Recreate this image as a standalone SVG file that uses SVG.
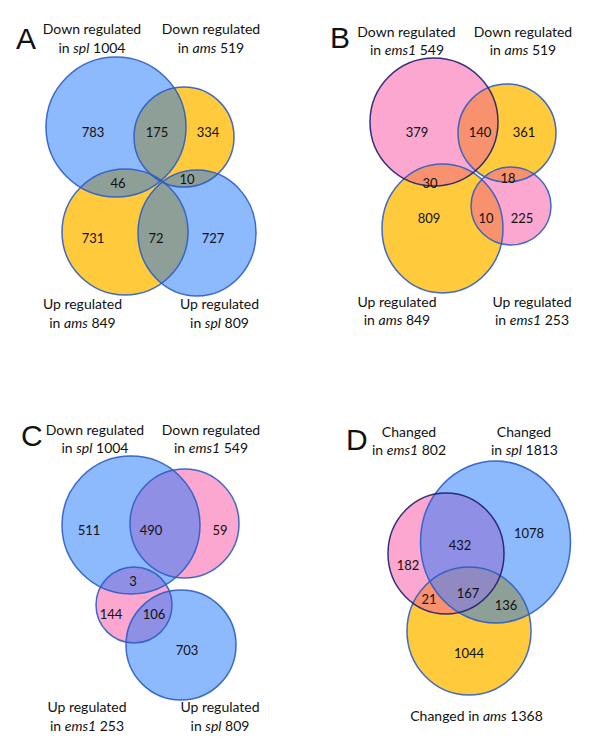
<svg xmlns="http://www.w3.org/2000/svg" width="600" height="756" viewBox="0 0 600 756">
<style>
.b{fill:#8DB9FD}.y{fill:#FFCB3D}.p{fill:#FBA7D0}.g{fill:#8E9F98}.s{fill:#F8916D}.l{fill:#8F8FE5}.t{fill:#9089C2}
.sb{fill:none;stroke:#2B5CC6;stroke-width:1.5;stroke-opacity:0.9}.sn{fill:none;stroke:#1E1E6E;stroke-width:1.5;stroke-opacity:0.9}
text{font-family:Lato,"Open Sans",sans-serif;fill:#111;text-anchor:middle}
.lab{font-size:14px}.num{font-size:13px}
.let{font-family:"Liberation Sans",Arial,sans-serif;font-size:30px;text-anchor:start}
.i{font-style:italic}
</style>
<defs>
<clipPath id="cA1"><ellipse cx="116" cy="127" rx="70" ry="70"/></clipPath>
<clipPath id="cA2"><ellipse cx="184" cy="137" rx="50" ry="50"/></clipPath>
<clipPath id="cA3"><ellipse cx="125" cy="232" rx="63" ry="63"/></clipPath>
<clipPath id="cB1"><ellipse cx="434" cy="122" rx="64" ry="64"/></clipPath>
<clipPath id="cB2"><ellipse cx="507" cy="133" rx="49" ry="49"/></clipPath>
<clipPath id="cB3"><ellipse cx="442.5" cy="228.5" rx="60.5" ry="64.5"/></clipPath>
<clipPath id="cC1"><ellipse cx="131" cy="525" rx="69" ry="69"/></clipPath>
<clipPath id="cC3"><ellipse cx="134" cy="605" rx="38" ry="38"/></clipPath>
<clipPath id="cD1"><ellipse cx="446" cy="553.5" rx="58" ry="60.5"/></clipPath>
<clipPath id="cD2"><ellipse cx="495.5" cy="542" rx="75" ry="81"/></clipPath>
</defs>

<g id="panelA">
<g id="A-fills">
<ellipse class="b" cx="116" cy="127" rx="70" ry="70"/>
<ellipse class="y" cx="184" cy="137" rx="50" ry="50"/>
<ellipse class="y" cx="125" cy="232" rx="63" ry="63"/>
<ellipse class="b" cx="197" cy="233" rx="59" ry="63"/>
<ellipse class="g" cx="184" cy="137" rx="50" ry="50" clip-path="url(#cA1)"/>
<ellipse class="g" cx="125" cy="232" rx="63" ry="63" clip-path="url(#cA1)"/>
<ellipse class="g" cx="197" cy="233" rx="59" ry="63" clip-path="url(#cA2)"/>
<ellipse class="g" cx="197" cy="233" rx="59" ry="63" clip-path="url(#cA3)"/>
</g>
<g id="A-outlines">
<ellipse class="sb" cx="116" cy="127" rx="70" ry="70"/>
<ellipse class="sb" cx="184" cy="137" rx="50" ry="50"/>
<ellipse class="sb" cx="125" cy="232" rx="63" ry="63"/>
<ellipse class="sb" cx="197" cy="233" rx="59" ry="63"/>
</g>
<text class="let" x="16" y="49">A</text>
<text class="lab" x="92" y="34">Down regulated</text>
<text class="lab" x="92" y="53">in <tspan class="i">spl</tspan> 1004</text>
<text class="lab" x="211" y="34">Down regulated</text>
<text class="lab" x="211" y="53">in <tspan class="i">ams</tspan> 519</text>
<text class="lab" x="82.5" y="309">Up regulated</text>
<text class="lab" x="82.5" y="328">in <tspan class="i">ams</tspan> 849</text>
<text class="lab" x="219.5" y="309">Up regulated</text>
<text class="lab" x="219.5" y="328">in <tspan class="i">spl</tspan> 809</text>
<text class="num" x="93" y="137">783</text>
<text class="num" x="157" y="137">175</text>
<text class="num" x="208" y="137">334</text>
<text class="num" x="118" y="188">46</text>
<text class="num" x="187" y="184">10</text>
<text class="num" x="93" y="243">731</text>
<text class="num" x="156" y="243">72</text>
<text class="num" x="213" y="243">727</text>
</g>

<g id="panelB">
<g id="B-fills">
<ellipse class="p" cx="434" cy="122" rx="64" ry="64"/>
<ellipse class="y" cx="507" cy="133" rx="49" ry="49"/>
<ellipse class="y" cx="442.5" cy="228.5" rx="60.5" ry="64.5"/>
<ellipse class="p" cx="511" cy="206" rx="40" ry="39"/>
<ellipse class="s" cx="507" cy="133" rx="49" ry="49" clip-path="url(#cB1)"/>
<ellipse class="s" cx="442.5" cy="228.5" rx="60.5" ry="64.5" clip-path="url(#cB1)"/>
<ellipse class="s" cx="511" cy="206" rx="40" ry="39" clip-path="url(#cB2)"/>
<ellipse class="s" cx="511" cy="206" rx="40" ry="39" clip-path="url(#cB3)"/>
</g>
<g id="B-outlines">
<ellipse class="sb" cx="507" cy="133" rx="49" ry="49"/>
<ellipse class="sb" cx="442.5" cy="228.5" rx="60.5" ry="64.5"/>
<ellipse class="sb" cx="511" cy="206" rx="40" ry="39"/>
<ellipse class="sn" cx="434" cy="122" rx="64" ry="64"/>
</g>
<text class="let" x="330" y="48">B</text>
<text class="lab" x="406.5" y="37">Down regulated</text>
<text class="lab" x="407" y="55">in <tspan class="i">ems1</tspan> 549</text>
<text class="lab" x="523" y="37">Down regulated</text>
<text class="lab" x="523" y="55">in <tspan class="i">ams</tspan> 519</text>
<text class="lab" x="397" y="307">Up regulated</text>
<text class="lab" x="397" y="325">in <tspan class="i">ams</tspan> 849</text>
<text class="lab" x="532" y="307">Up regulated</text>
<text class="lab" x="532" y="325">in <tspan class="i">ems1</tspan> 253</text>
<text class="num" x="417" y="137">379</text>
<text class="num" x="480" y="137">140</text>
<text class="num" x="524" y="137">361</text>
<text class="num" x="430" y="188">30</text>
<text class="num" x="508" y="183">18</text>
<text class="num" x="429" y="223">809</text>
<text class="num" x="486" y="223">10</text>
<text class="num" x="522" y="223">225</text>
</g>

<g id="panelC">
<g id="C-fills">
<ellipse class="b" cx="131" cy="525" rx="69" ry="69"/>
<ellipse class="p" cx="184.5" cy="523.5" rx="54.5" ry="54.5"/>
<ellipse class="p" cx="134" cy="605" rx="38" ry="38"/>
<ellipse class="b" cx="181" cy="645" rx="55" ry="55"/>
<ellipse class="l" cx="184.5" cy="523.5" rx="54.5" ry="54.5" clip-path="url(#cC1)"/>
<ellipse class="l" cx="134" cy="605" rx="38" ry="38" clip-path="url(#cC1)"/>
<ellipse class="l" cx="181" cy="645" rx="55" ry="55" clip-path="url(#cC3)"/>
</g>
<g id="C-outlines">
<ellipse class="sb" cx="131" cy="525" rx="69" ry="69"/>
<ellipse class="sb" cx="184.5" cy="523.5" rx="54.5" ry="54.5"/>
<ellipse class="sb" cx="134" cy="605" rx="38" ry="38"/>
<ellipse class="sb" cx="181" cy="645" rx="55" ry="55"/>
</g>
<text class="let" x="21" y="446">C</text>
<text class="lab" x="95" y="435">Down regulated</text>
<text class="lab" x="95" y="453">in <tspan class="i">spl</tspan> 1004</text>
<text class="lab" x="211" y="435">Down regulated</text>
<text class="lab" x="211" y="453">in <tspan class="i">ems1</tspan> 549</text>
<text class="lab" x="87" y="712">Up regulated</text>
<text class="lab" x="87" y="731">in <tspan class="i">ems1</tspan> 253</text>
<text class="lab" x="220" y="712">Up regulated</text>
<text class="lab" x="220" y="731">in <tspan class="i">spl</tspan> 809</text>
<text class="num" x="89" y="535">511</text>
<text class="num" x="151" y="535">490</text>
<text class="num" x="220" y="535">59</text>
<text class="num" x="133" y="586">3</text>
<text class="num" x="111" y="619">144</text>
<text class="num" x="154" y="619">106</text>
<text class="num" x="187" y="655">703</text>
</g>

<g id="panelD">
<g id="D-fills">
<ellipse class="b" cx="495.5" cy="542" rx="75" ry="81"/>
<ellipse class="p" cx="446" cy="553.5" rx="58" ry="60.5"/>
<ellipse class="y" cx="469" cy="631" rx="62" ry="64"/>
<ellipse class="l" cx="446" cy="553.5" rx="58" ry="60.5" clip-path="url(#cD2)"/>
<ellipse class="s" cx="469" cy="631" rx="62" ry="64" clip-path="url(#cD1)"/>
<ellipse class="g" cx="469" cy="631" rx="62" ry="64" clip-path="url(#cD2)"/>
<g clip-path="url(#cD1)"><ellipse class="t" cx="469" cy="631" rx="62" ry="64" clip-path="url(#cD2)"/></g>
</g>
<g id="D-outlines">
<ellipse class="sb" cx="495.5" cy="542" rx="75" ry="81"/>
<ellipse class="sb" cx="469" cy="631" rx="62" ry="64"/>
<ellipse class="sn" cx="446" cy="553.5" rx="58" ry="60.5"/>
</g>
<text class="let" x="346" y="450">D</text>
<text class="lab" x="409" y="437">Changed</text>
<text class="lab" x="409" y="455">in <tspan class="i">ems1</tspan> 802</text>
<text class="lab" x="524" y="437">Changed</text>
<text class="lab" x="524.5" y="455">in <tspan class="i">spl</tspan> 1813</text>
<text class="lab" x="476.5" y="721">Changed in <tspan class="i">ams</tspan> 1368</text>
<text class="num" x="529" y="538">1078</text>
<text class="num" x="460" y="550">432</text>
<text class="num" x="408" y="570">182</text>
<text class="num" x="429" y="604">21</text>
<text class="num" x="468" y="598">167</text>
<text class="num" x="506" y="610">136</text>
<text class="num" x="469" y="658">1044</text>
</g>
</svg>
